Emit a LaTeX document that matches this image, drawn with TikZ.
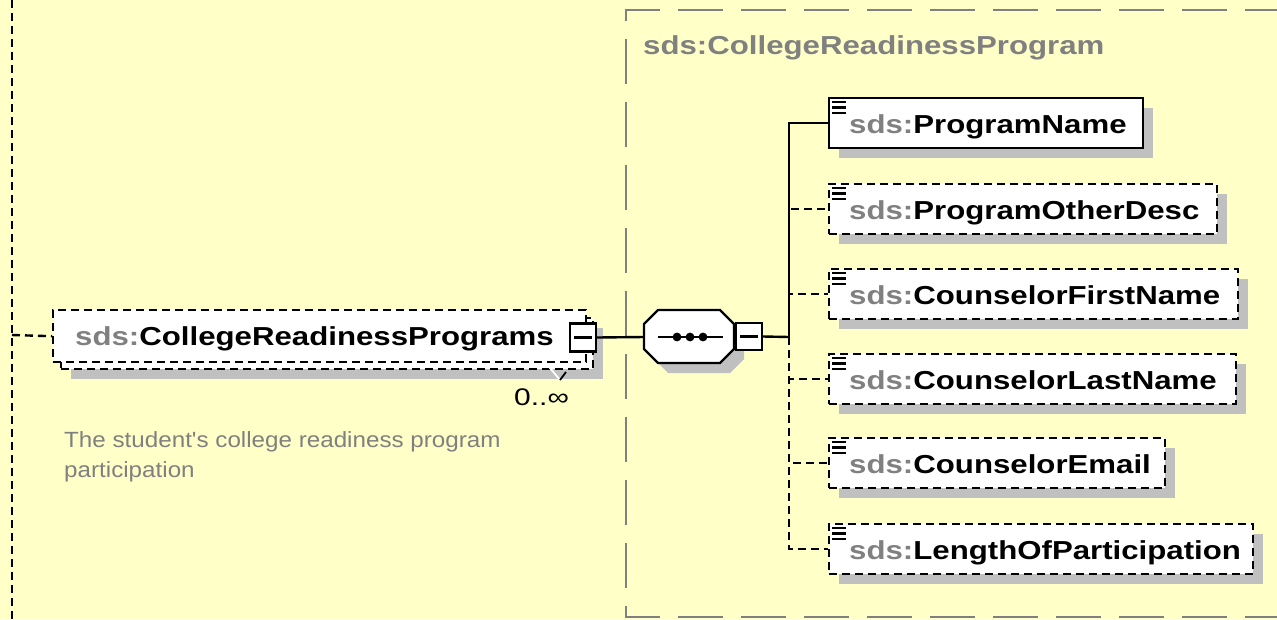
\documentclass[tikz,border=0pt]{standalone}
\usepackage{fontspec}
\setmainfont{Liberation Sans}
\newfontfamily\lblfont[FakeStretch=1.2]{Liberation Sans}
\newfontfamily\descfont[FakeStretch=1.1]{Liberation Sans}
\newfontfamily\multfont[FakeStretch=1.25]{Liberation Sans}
\usetikzlibrary{shadows}
\definecolor{bgyellow}{RGB}{255,255,200}
\definecolor{txtgray}{RGB}{128,128,128}
\definecolor{shgray}{RGB}{192,192,192}
\newcommand\docicon[1]{%
  \foreach \d in {5,10.5,16}{\draw[line width=2.2pt] ([xshift=4pt,yshift=-\d pt]#1.north west) -- ++(14,0);}}
\begin{document}
\begin{tikzpicture}[x=1pt,y=-1pt,
  boxdash/.style={dash pattern=on 8pt off 5pt},
  elem/.style={draw=black, line width=2.4pt, fill=white, rectangle, anchor=north west, inner sep=0pt, minimum height=50pt},
  shad/.style={drop shadow={shadow xshift=10pt, shadow yshift=-10pt, fill=shgray, opacity=1}},
  lbl/.style={font=\lblfont\bfseries\fontsize{26}{30}\selectfont, anchor=base west, inner sep=0pt},
  desc/.style={font=\descfont\fontsize{22}{26}\selectfont, text=txtgray, anchor=base west, inner sep=0pt},
  conn/.style={line width=2.4pt, draw=black},
  btn/.style={draw=black, line width=2.4pt, fill=white, rectangle, inner sep=0pt},
  cxline/.style={draw=txtgray, line width=2.4pt, dash pattern=on 45pt off 18pt}
]
\useasboundingbox (0,0) rectangle (1277,619);
\fill[bgyellow] (0,0) rectangle (1277,619);
\clip (0,0) rectangle (1277,619);

% complex type region
\draw[cxline] (1290,10) -- (626,10) -- (626,617) -- (1290,617);
\node[lbl, text=txtgray] (title) at (643,54) {sds:CollegeReadinessProgram};

% left connector
\coordinate (ltop) at (12,0);
\coordinate (lbot) at (12,619);
\coordinate (lbr) at (12,335);
\draw[conn, boxdash] (ltop) -- (lbot);

% main element (multiple occurrence)
\node[elem, boxdash, shad, minimum width=532pt, minimum height=51pt] (mback) at (60,317) {};
\node[elem, boxdash, minimum width=533pt, minimum height=52pt] (mfront) at (52,309) {};
\draw[conn, boxdash] (lbr) -- (mfront.west);
\node[lbl] (mtxt) at (75,345) {\textcolor{txtgray}{sds:}CollegeReadinessPrograms};
\node[btn, minimum width=26pt, minimum height=28pt] (mb) at (583,337.5) {};
\draw[line width=2.2pt] ([xshift=-9pt]mb.center) -- ([xshift=9pt]mb.center);
\draw[white, line width=1.8pt] (545,362) -- (560,380);
\draw[black, line width=1.8pt] (560,380) -- (566,372);
\node[desc, text=black, font=\multfont\fontsize{24}{28}\selectfont] (mult) at (514,405) {0..∞};
\node[desc] (desc1) at (64,447) {The student's college readiness program};
\node[desc] (desc2) at (64,477) {participation};

% sequence compositor
\coordinate (seqW) at (644,337);
\coordinate (seqE) at (734,337);
\fill[shgray] (654,334) -- (668,320) -- (730,320) -- (744,334) -- (744,359) -- (730,373) -- (668,373) -- (654,359) -- cycle;
\draw[line width=2.4pt, fill=white] (644,324) -- (658,310) -- (720,310) -- (734,324) -- (734,349) -- (720,363) -- (658,363) -- (644,349) -- cycle;
\draw[line width=2.2pt] (658,337) -- (723,337);
\foreach \dx in {677,690,703}{\fill (\dx,337) circle (4.4);}
\node[btn, minimum width=26pt, minimum height=27pt] (cb) at (749,336.5) {};
\draw[line width=2.2pt] ([xshift=-9pt]cb.center) -- ([xshift=9pt]cb.center);
\draw[conn] (mb.east) -- (seqW);
\coordinate (bus) at (789,337);

% children
\node[elem, shad, minimum width=314pt] (pn) at (828,97) {};
\node[elem, boxdash, shad, minimum width=388pt] (pod) at (828,183) {};
\node[elem, boxdash, shad, minimum width=409pt] (cfn) at (828,268) {};
\node[elem, boxdash, shad, minimum width=407pt] (cln) at (828,353) {};
\node[elem, boxdash, shad, minimum width=336pt] (ce) at (828,437) {};
\node[elem, boxdash, shad, minimum width=424pt] (lop) at (828,523) {};

\foreach \n/\t in {pn/ProgramName, pod/ProgramOtherDesc, cfn/CounselorFirstName, cln/CounselorLastName, ce/CounselorEmail, lop/LengthOfParticipation}{
  \node[lbl] (\n-txt) at ([xshift=21pt,yshift=-10.5pt]\n.west) {\textcolor{txtgray}{sds:}\t};
  \docicon{\n}
}

\foreach \n in {pod,cfn,cln,ce,lop}{\draw[conn, boxdash] (bus) |- (\n.west);}
\draw[conn] (cb.east) -- (bus);
\draw[conn] (bus) |- (pn.west);
\end{tikzpicture}
\end{document}
